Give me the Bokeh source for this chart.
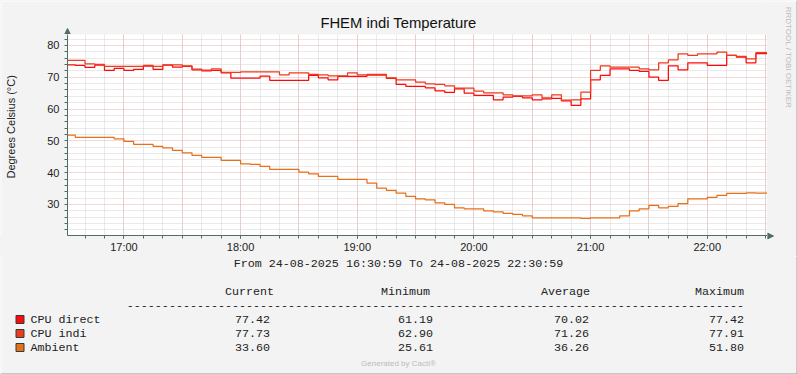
import pandas as pd
from math import pi
from bokeh.plotting import figure
from bokeh.layouts import row, column
from bokeh.models import Range1d, FixedTicker, DatetimeTickFormatter
from bokeh.core.properties import value
from bokeh.embed import file_html
from bokeh.resources import INLINE

# ---------------- data ----------------
start_time = "2025-08-24 16:30:59"
end_time = "2025-08-24 22:30:59"
first_step = "2025-08-24 16:30:00"   # 5-minute RRD steps

cpu_direct = [73.92, 73.71, 73.08, 73.82, 72.14, 72.77, 72.14, 72.45, 73.50, 72.45,
              73.82, 73.19, 73.40, 72.35, 72.03, 72.14, 71.40, 69.73, 69.73, 69.73,
              70.36, 68.99, 68.99, 68.99, 68.99, 70.57, 69.83, 69.20, 70.25, 70.25,
              70.25, 70.67, 70.67, 69.62, 67.74, 67.11, 67.11, 66.69, 65.74, 65.22,
              66.37, 65.01, 64.28, 64.28, 62.91, 63.75, 63.96, 63.54, 62.91, 63.23,
              63.33, 62.60, 61.19, 63.23, 69.20, 70.57, 72.66, 72.66, 72.14, 71.82,
              70.04, 68.99, 73.61, 72.35, 74.55, 74.55, 73.71, 73.71, 76.86, 76.33,
              74.55, 77.42, 77.42]
cpu_indi = [75.28, 75.28, 74.23, 74.03, 73.40, 73.40, 73.40, 73.40, 73.71, 73.40,
            73.92, 73.92, 73.61, 72.56, 72.24, 72.66, 71.51, 71.51, 71.72, 71.72,
            71.72, 71.72, 70.78, 71.40, 71.40, 70.88, 70.78, 70.46, 70.46, 71.40,
            70.78, 70.88, 70.88, 69.83, 69.20, 69.20, 68.47, 67.95, 67.74, 67.32,
            66.58, 66.58, 65.64, 65.12, 65.12, 64.49, 64.17, 64.17, 64.49, 63.54,
            64.49, 62.81, 62.90, 65.32, 72.14, 73.61, 73.19, 73.19, 73.19, 72.66,
            72.35, 74.55, 75.49, 77.38, 76.86, 77.38, 77.38, 77.91, 76.86, 76.54,
            75.81, 77.73, 77.73]
ambient = [51.80, 51.07, 51.07, 51.07, 51.07, 50.65, 49.81, 48.87, 48.87, 48.24,
           47.82, 46.98, 46.25, 45.41, 44.78, 44.78, 43.84, 43.84, 42.79, 42.58,
           41.95, 41.01, 41.01, 41.01, 40.17, 39.64, 38.81, 38.81, 37.86, 37.86,
           37.86, 36.71, 35.14, 34.40, 33.56, 32.52, 31.78, 31.47, 30.52, 30.00,
           28.95, 28.64, 28.64, 28.00, 27.70, 27.17, 26.86, 26.44, 25.81, 25.81,
           25.81, 25.81, 25.81, 25.61, 25.81, 25.81, 25.81, 26.44, 28.00, 28.64,
           29.69, 28.95, 29.37, 30.31, 31.78, 31.78, 32.20, 32.83, 33.46, 33.46,
           33.67, 33.60, 33.60]

series_names = ["CPU direct", "CPU indi", "Ambient"]
series_colors = ["#FF0A0A", "#EE3A1E", "#E8701A"]
stat_headers = ["Current", "Minimum", "Average", "Maximum"]
stats = [["77.42", "61.19", "70.02", "77.42"],
         ["77.73", "62.90", "71.26", "77.91"],
         ["33.60", "25.61", "36.26", "51.80"]]
y_major = [30, 40, 50, 60, 70, 80]
y_minor = [22, 24, 26, 28, 32, 34, 36, 38, 42, 44, 46, 48, 52, 54, 56, 58,
           62, 64, 66, 68, 72, 74, 76, 78, 82]
title_text = "FHEM indi Temperature"
y_label = "Degrees Celsius (°C)"
period_text = "From 24-08-2025 16:30:59 To 24-08-2025 22:30:59"
credit_right = "RRDTOOL / TOBI OETIKER"
credit_bottom = "Generated by Cacti®"


def ms(t):
    return pd.Timestamp(t).value // 10**6


steps = pd.date_range(first_step, periods=len(cpu_direct), freq="5min")
xs = [ms(t) for t in steps] + [ms(end_time)]

hour_ticks = [ms(t) for t in pd.date_range("2025-08-24 17:00", "2025-08-24 22:00", freq="60min")]
half_ticks = [ms(t) for t in pd.date_range("2025-08-24 17:00", "2025-08-24 22:30", freq="30min")]
ten_ticks = [ms(t) for t in pd.date_range("2025-08-24 16:40", "2025-08-24 22:30", freq="10min")]

# ---------------- style ----------------
AX = "#4F6E64"
BG = "#F3F3F3"
TXT = "#222222"
SANS = "Liberation Sans"
MONO = "Liberation Mono"

# layout geometry (page pixels)
W, H = 797, 374
FRAME_L, FRAME_R, FRAME_T, FRAME_B = 67, 767, 34, 235
UPPER_H = 256
TOP_H = FRAME_T
LEFT_W = 28
RIGHT_W = W - FRAME_R
MAIN_W = FRAME_R - LEFT_W
MAIN_H = UPPER_H - TOP_H
BOX_STYLE = {"background-color": BG}


def canvas(w, h, ox, oy):
    f = figure(width=w, height=h, output_backend="svg", toolbar_location=None,
               title=None, x_axis_location=None, y_axis_location=None,
               x_range=Range1d(0, w), y_range=Range1d(0, h), min_border=0)
    f.grid.visible = False
    f.background_fill_color = BG
    f.border_fill_color = BG
    f.outline_line_color = None
    f._o = (ox, oy, h)
    return f


def put(f, X, Y, text, size, font=MONO, align="left", color=TXT, angle=0.0):
    ox, oy, h = f._o
    f.text(x=[X - ox], y=[h - (Y - oy)], text=[text],
           text_font=value(font), text_font_size=value(f"{size}px"),
           text_align=align, text_baseline="middle", text_color=color,
           angle=angle)


def edge(f, X0, Y0, X1, Y1, color):
    ox, oy, h = f._o
    f.segment(x0=[X0 - ox], y0=[h - (Y0 - oy)], x1=[X1 - ox], y1=[h - (Y1 - oy)],
              line_color=color, line_width=1)


# ---------------- main plot ----------------
p = figure(width=MAIN_W, height=MAIN_H, output_backend="svg", toolbar_location=None,
           title=None, x_axis_type="datetime",
           x_range=Range1d(ms(start_time), ms(end_time)),
           y_range=Range1d(20.25, 83.45),
           min_border_left=FRAME_L - LEFT_W, min_border_right=0, min_border_top=0,
           min_border_bottom=UPPER_H - FRAME_B)
p.background_fill_color = "white"
p.border_fill_color = BG
p.outline_line_color = None

p.xgrid.ticker = FixedTicker(ticks=half_ticks, minor_ticks=ten_ticks)
p.ygrid.ticker = FixedTicker(ticks=y_major, minor_ticks=y_minor)
for g in (p.xgrid, p.ygrid):
    g.grid_line_color = "#EAB0B0"
    g.grid_line_dash = "1 1"
    g.grid_line_width = 1
    g.minor_grid_line_color = "#D4D4D4"
    g.minor_grid_line_dash = "1 1"
    g.minor_grid_line_width = 1

p.xaxis.ticker = FixedTicker(ticks=hour_ticks, minor_ticks=ten_ticks)
p.xaxis.formatter = DatetimeTickFormatter(hours="%H:%M", hourmin="%H:%M",
                                          minutes="%H:%M", minsec="%H:%M",
                                          days="%H:%M")
p.yaxis.ticker = FixedTicker(ticks=y_major, minor_ticks=y_minor)
for ax in (p.xaxis, p.yaxis):
    ax.axis_line_color = AX
    ax.axis_line_width = 1
    ax.major_tick_line_color = AX
    ax.minor_tick_line_color = AX
    ax.major_tick_in = 0
    ax.minor_tick_in = 0
    ax.major_tick_out = 3
    ax.minor_tick_out = 3
    ax.major_label_text_font = SANS
    ax.major_label_text_font_size = "11px"
    ax.major_label_text_color = TXT
p.xaxis.major_label_standoff = 2
p.yaxis.major_label_standoff = 5

for vals, col in zip([cpu_direct, cpu_indi, ambient], series_colors):
    p.step(xs, vals + [vals[-1]], mode="after", line_color=col, line_width=1.25)

# ---------------- surrounding canvases ----------------
top = canvas(LEFT_W + MAIN_W, TOP_H, 0, 0)
put(top, 398, 22, title_text, 14.8, font=SANS, align="center", color="#111111")
# arrow head of the y axis
top.patch([FRAME_L - 3, FRAME_L + 3, FRAME_L], [0, 0, 6], fill_color=AX, line_color=AX)
edge(top, 0, 0.5, LEFT_W + MAIN_W, 0.5, "#FFFFFF")
edge(top, 0.5, 0, 0.5, TOP_H, "#FFFFFF")

left = canvas(LEFT_W, MAIN_H, 0, TOP_H)
put(left, 10, 136, y_label, 11, font=SANS, align="center", angle=pi / 2)
edge(left, 0.5, TOP_H, 0.5, UPPER_H, "#FFFFFF")

right = canvas(RIGHT_W, UPPER_H, FRAME_R, 0)
put(right, 788, 57, credit_right, 8, font=SANS, align="center",
    color="#BBBBBB", angle=-pi / 2)
# arrow head of the x axis
ay = UPPER_H - FRAME_B - 0.5
right.patch([0, 0, 6], [ay - 3, ay + 3, ay], fill_color=AX, line_color=AX)
edge(right, FRAME_R, 0.5, W, 0.5, "#FFFFFF")
edge(right, W - 0.5, 0, W - 0.5, UPPER_H, "#9A9A9A")

bottom = canvas(W, H - UPPER_H, 0, UPPER_H)
put(bottom, 398, 263, period_text, 11.7, align="center")
head_right = [273.5, 429.5, 589.5, 743.5]
val_right = [269.5, 432.5, 588.5, 743.5]
for hx, hname in zip(head_right, stat_headers):
    put(bottom, hx, 291, hname, 11.7, align="right")
put(bottom, 743.5, 305, "-" * 88, 11.7, align="right")
row_y = [319, 333, 347]
bh = H - UPPER_H
for ry, name, col, vals in zip(row_y, series_names, series_colors, stats):
    bottom.rect(x=[19.5], y=[bh - (ry - UPPER_H)], width=8, height=8,
                fill_color=col, line_color="#2A4038", line_width=1)
    put(bottom, 30, ry, name, 11.7)
    for vx, v in zip(val_right, vals):
        put(bottom, vx, ry, v, 11.7, align="right")
put(bottom, 398, 363, credit_bottom, 8, font=SANS, align="center", color="#BBBBBB")
edge(bottom, 0.5, UPPER_H, 0.5, H, "#FFFFFF")
edge(bottom, 0, H - 0.5, W, H - 0.5, "#9A9A9A")
edge(bottom, W - 0.5, UPPER_H, W - 0.5, H, "#9A9A9A")

inner = row(left, p, styles=BOX_STYLE)
upper_left = column(top, inner, styles=BOX_STYLE)
upper = row(upper_left, right, styles=BOX_STYLE)
layout = column(upper, bottom, styles=BOX_STYLE)

open("out.html", "w").write(file_html(layout, INLINE))
